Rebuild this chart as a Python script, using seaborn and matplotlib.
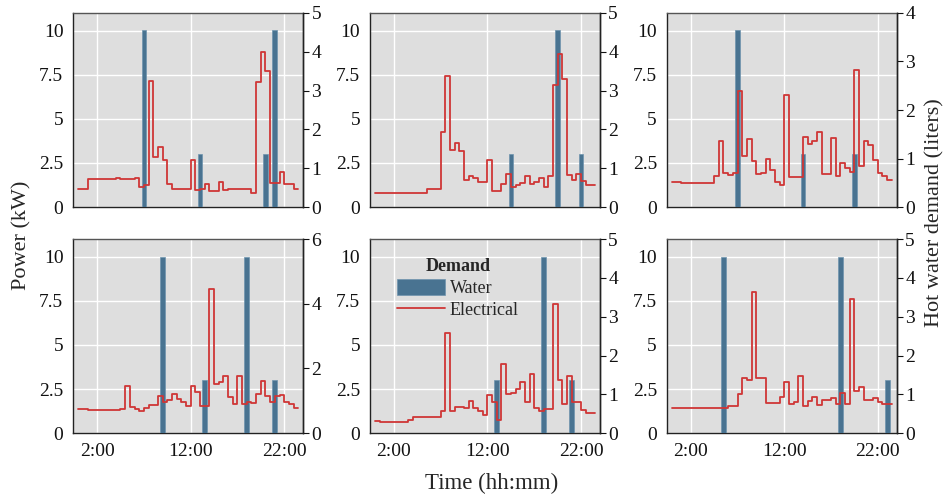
import numpy as np
import pandas as pd
import matplotlib
matplotlib.use("Agg")
import matplotlib.pyplot as plt
import seaborn as sns

# ---------------- data ----------------
# Electrical demand: step change times (hours) and power values (kW)
p1_t = [0, 1.0, 4.0, 4.5, 6.0, 6.5, 7.0, 7.5, 8.0, 8.5, 9.0, 9.5, 10.0, 12.0, 12.5, 13.0,
        13.5, 14.0, 15.0, 15.5, 16.0, 18.5, 19.0, 19.5, 20.0, 20.5, 21.5, 22.0, 23.0]
p1_v = [1.04, 1.58, 1.64, 1.58, 1.64, 1.13, 1.23, 7.13, 2.83, 3.40, 2.64, 1.28, 1.04, 2.68, 0.98, 1.04,
        1.32, 0.90, 1.42, 0.94, 1.04, 0.81, 7.08, 8.77, 7.70, 1.36, 1.96, 1.28, 1.04]

p2_t = [0, 5.5, 7.0, 7.5, 8.0, 8.5, 9.0, 9.5, 10.0, 10.5, 11.0, 12.0, 12.5, 13.5, 14.0, 14.5,
        15.0, 15.5, 16.0, 16.5, 17.0, 17.5, 18.0, 18.5, 19.0, 19.5, 20.0, 20.5, 21.0, 21.5, 22.0, 22.5]
p2_v = [0.81, 1.04, 4.28, 7.45, 3.26, 3.62, 3.17, 1.51, 1.75, 1.64, 1.42, 2.68, 0.89, 1.32, 1.85, 1.13,
        1.23, 1.36, 1.75, 1.32, 1.42, 1.66, 1.13, 1.75, 6.94, 8.68, 7.23, 1.79, 1.51, 1.85, 1.45, 1.26]

p3_t = [0, 1.0, 4.5, 5.0, 5.5, 6.0, 6.5, 7.0, 7.5, 8.0, 8.5, 9.0, 9.5, 10.0, 10.5, 11.0, 11.5,
        12.0, 12.5, 14.0, 14.5, 15.0, 15.5, 16.0, 17.0, 17.5, 18.0, 18.5, 19.0, 19.5, 20.0, 20.5,
        21.0, 21.5, 22.0, 22.5, 23.0]
p3_v = [1.42, 1.38, 1.74, 3.77, 1.92, 1.79, 1.92, 6.60, 2.87, 3.83, 2.60, 1.85, 1.92, 2.74, 2.08, 1.42, 1.26,
        6.36, 1.70, 3.96, 3.55, 3.77, 4.25, 1.89, 3.92, 1.74, 2.49, 2.20, 1.98, 7.77, 2.30, 3.77,
        3.49, 2.68, 1.92, 1.74, 1.51]

p4_t = [0, 1.0, 4.5, 5.0, 5.5, 6.0, 6.5, 7.0, 7.5, 8.5, 9.0, 9.5, 10.0, 10.5, 11.0, 11.5, 12.0,
        12.5, 13.0, 14.0, 14.5, 15.0, 15.5, 16.0, 16.5, 17.0, 17.5, 18.0, 18.5, 19.0, 19.5, 20.0,
        20.5, 21.0, 21.5, 22.0, 22.5, 23.0]
p4_v = [1.36, 1.32, 1.38, 2.68, 1.47, 1.38, 1.28, 1.45, 1.57, 2.13, 1.75, 1.85, 2.23, 1.94, 1.74, 1.55, 2.68,
        2.32, 1.51, 8.17, 2.79, 2.87, 3.21, 2.04, 1.66, 3.21, 1.66, 1.74, 1.70, 2.20, 2.98, 2.08,
        1.79, 2.08, 2.17, 1.79, 1.64, 1.42]

p5_t = [0, 0.5, 3.5, 4.0, 4.5, 7.0, 7.5, 8.0, 8.5, 9.5, 10.0, 10.5, 11.0, 11.5, 12.0, 12.5, 13.0,
        13.5, 14.0, 14.5, 15.0, 15.5, 16.0, 16.5, 17.0, 17.5, 18.0, 19.0, 19.5, 20.0, 20.5, 21.0,
        22.0, 22.5]
p5_v = [0.68, 0.62, 0.72, 0.91, 0.94, 1.28, 5.66, 1.28, 1.47, 1.42, 1.83, 1.42, 1.26, 1.04, 2.17, 1.74, 0.75,
        3.91, 2.20, 2.30, 2.49, 2.92, 1.74, 3.36, 1.42, 1.26, 1.38, 7.30, 3.02, 1.66, 3.26, 1.74,
        1.30, 1.13]

p6_t = [0, 1.0, 6.0, 7.0, 7.5, 8.0, 8.5, 9.0, 10.0, 11.5, 12.0, 12.5, 13.0, 13.5, 14.0, 14.5, 15.0,
        15.5, 16.0, 17.0, 17.5, 18.0, 18.5, 19.0, 19.5, 20.0, 20.5, 21.5, 22.0, 22.5]
p6_v = [1.45, 1.40, 1.51, 2.20, 3.15, 3.02, 7.98, 3.11, 1.70, 2.04, 2.89, 1.64, 1.74, 3.26, 1.55, 1.83, 2.04,
        1.57, 1.89, 1.98, 1.64, 2.26, 1.66, 7.58, 2.36, 2.60, 1.89, 1.98, 1.79, 1.66]

day_end = 23.5

# Hot water demand: draw times (hours) and volumes (liters)
w1_t = [7.0, 13.0, 20.0, 21.0]; w1_l = [4.55, 1.36, 1.36, 4.55]
w2_t = [14.5, 19.5, 22.0];      w2_l = [1.36, 4.55, 1.36]
w3_t = [7.0, 14.0, 19.5];       w3_l = [3.64, 1.09, 1.09]
w4_t = [9.0, 13.5, 18.0, 21.0]; w4_l = [5.45, 1.64, 5.45, 1.64]
w5_t = [13.0, 18.0, 21.0];      w5_l = [1.36, 4.55, 1.36]
w6_t = [5.5, 18.0, 23.0];       w6_l = [4.55, 4.55, 1.36]

water_max = [5, 5, 4, 6, 5, 5]
water_ticks = [[0, 1, 2, 3, 4, 5], [0, 1, 2, 3, 4, 5], [0, 1, 2, 3, 4],
               [0, 2, 4, 6], [0, 1, 2, 3, 4, 5], [0, 1, 2, 3, 4, 5]]

power_ticks = [0, 2.5, 5, 7.5, 10]
power_labels = ["0", "2.5", "5", "7.5", "10"]
time_ticks = [2, 12, 22]
time_labels = ["2:00", "12:00", "22:00"]

elec = [(p1_t, p1_v), (p2_t, p2_v), (p3_t, p3_v), (p4_t, p4_v), (p5_t, p5_v), (p6_t, p6_v)]
water = [(w1_t, w1_l), (w2_t, w2_l), (w3_t, w3_l), (w4_t, w4_l), (w5_t, w5_l), (w6_t, w6_l)]

# ---------------- style ----------------
BG = "#DEDEDE"
BAR = "#44708F"
RED = "#CF3636"

sns.set_style("darkgrid", {"axes.facecolor": BG, "grid.color": "white"})
plt.rcParams["font.family"] = ["Liberation Serif", "DejaVu Serif"]
plt.rcParams["mathtext.fontset"] = "stix"

fig, axes = plt.subplots(2, 3, figsize=(9.49, 4.99), dpi=100, sharex=True)
fig.subplots_adjust(left=0.077, right=0.945, bottom=0.132, top=0.974,
                    wspace=0.29, hspace=0.165)

TICK_FS = 14
for i, ax in enumerate(axes.flat):
    t, v = elec[i]
    wt, wl = water[i]
    ax.set_facecolor(BG)
    ax.grid(True, color="white", linewidth=1.0)
    ax.set_axisbelow(True)
    ax.set_xlim(-0.57, 24.03)
    ax.set_ylim(0, 11)
    ax.set_yticks(power_ticks)
    ax.set_yticklabels(power_labels)
    ax.set_xticks(time_ticks)
    ax.set_xticklabels(time_labels)
    ax.tick_params(axis="y", length=0, pad=7, labelsize=TICK_FS, colors="#111111")
    ax.tick_params(axis="x", length=0, pad=7, labelsize=TICK_FS, colors="#111111")
    for s in ax.spines.values():
        s.set_visible(True)
        s.set_color("#222222")
        s.set_linewidth(1.0)
    ax.spines["top"].set_color("#555555")

    ax2 = ax.twinx()
    bars = ax2.bar(wt, wl, width=0.5, color=BAR, edgecolor="#6D93AD",
                   linewidth=0.5, alpha=0.97, label="Water", zorder=2)
    df = pd.DataFrame({"t": list(t) + [day_end], "kw": list(v) + [v[-1]]})
    sns.lineplot(data=df, x="t", y="kw", ax=ax2, drawstyle="steps-post",
                 color=RED, linewidth=1.3, estimator=None, sort=False,
                 transform=ax.transData, label="Electrical", legend=False, zorder=3)
    ax2.set_ylim(0, water_max[i])
    ax2.set_yticks(water_ticks[i])
    ax2.set_yticklabels([str(x) for x in water_ticks[i]])
    ax2.grid(False)
    ax2.set_xlabel("")
    ax2.set_ylabel("")
    ax2.tick_params(axis="y", length=4, width=0.8, direction="out", pad=2,
                    labelsize=TICK_FS, colors="#111111")
    for s in ax2.spines.values():
        s.set_visible(False)
    ax2.spines["right"].set_visible(True)
    ax2.spines["right"].set_color("#222222")
    ax2.spines["right"].set_linewidth(1.0)
    ax.set_xlabel("")
    ax.set_ylabel("")
    if i == 4:
        h_bar = bars
        h_line = ax2.get_lines()[0]
        ax2.legend([h_bar, h_line], ["Water", "Electrical"], title="Demand",
                   loc="upper left", bbox_to_anchor=(0.085, 0.94), frameon=False,
                   fontsize=13, title_fontproperties={"weight": "bold", "size": 13},
                   handlelength=2.7, handleheight=1.0, labelspacing=0.2,
                   handletextpad=0.25, borderaxespad=0.0)

fig.text(0.023, 0.529, "Power (kW)", rotation=90, ha="center", va="center", fontsize=16)
fig.text(0.985, 0.573, "Hot water demand (liters)", rotation=90, ha="center", va="center",
         fontsize=16)
fig.text(0.518, 0.032, "Time (hh:mm)", ha="center", va="center", fontsize=16.5)

fig.savefig("out.png", dpi=100)
